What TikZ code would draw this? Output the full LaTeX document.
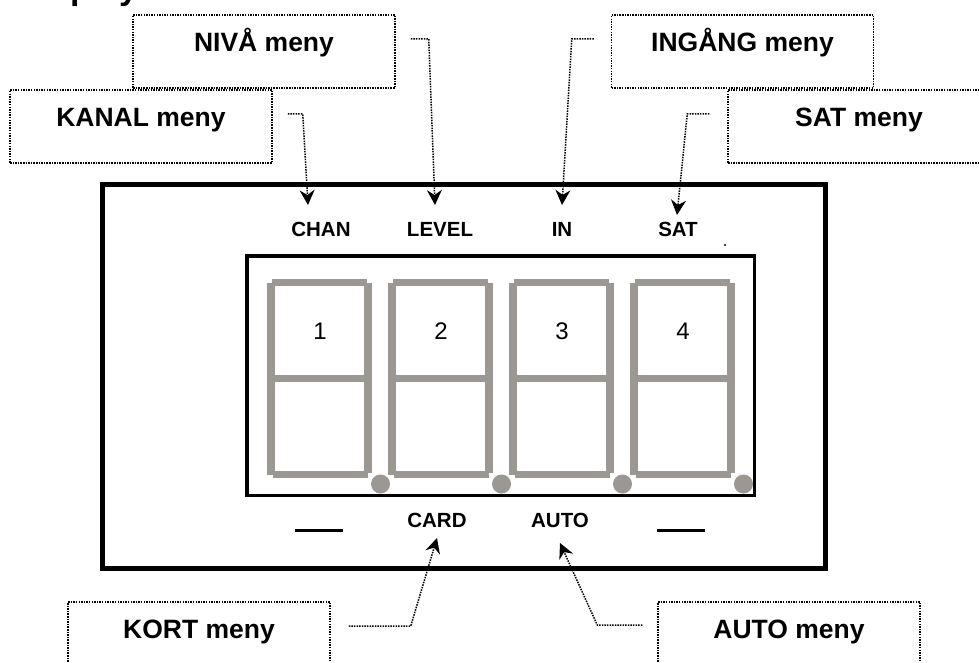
\documentclass[tikz,border=0pt]{standalone}
\usepackage{fontspec}
\setmainfont{Liberation Sans}
\usetikzlibrary{arrows.meta,calc}
\definecolor{seggray}{RGB}{155,151,147}
\begin{document}
\begin{tikzpicture}[x=1pt,y=-1pt,
  callout/.style={draw, line width=1.5pt, dash pattern=on 1.5pt off 1.1pt,
    minimum width=262pt, minimum height=73pt, inner sep=0pt,
    text height=20pt, text depth=20pt,
    font=\bfseries\fontsize{26.5}{30}\selectfont},
  lbl/.style={inner sep=0pt, anchor=base, font=\bfseries\fontsize{20.5}{24}\selectfont},
  numtxt/.style={inner sep=0pt, font=\fontsize{24}{28}\selectfont},
  conn/.style={line width=1.5pt, dash pattern=on 1.5pt off 1.1pt,
    -{Stealth[length=15pt,width=15pt,inset=5pt]}},
  seg/.style={fill=seggray, draw=none},
  ]
\useasboundingbox (0,0) rectangle (979,663);
% title, cut by the top edge
\begin{scope}
  \clip (0,0) rectangle (979,663);
  \node[anchor=base west, inner sep=0pt, font=\bfseries\fontsize{34}{40}\selectfont] (title) at (17,0) {Display};
\end{scope}
% panel frames
\draw[line width=5pt] (102.5,184.5) rectangle (825.5,568);
\draw[line width=3.5pt] (247,256) rectangle (754.5,495.5);
\fill (725,245) circle (1.2pt);
% seven-segment style digits
\foreach \L/\n [count=\i] in {267/1,388/2,509/3,630/4}{
  \fill[seg] (\L+5,279) rectangle (\L+100,286);
  \fill[seg] (\L,283) rectangle (\L+8,475);
  \fill[seg] (\L+97,283) rectangle (\L+105,473);
  \fill[seg] (\L+8,375) rectangle (\L+97,382);
  \fill[seg] (\L+6,471) rectangle (\L+101,478);
  \fill[seg] (\L+113.5,484) circle (9.5pt);
  \node[numtxt] (num\i) at (\L+53,331) {\n};
}
% labels on the panel
\node[lbl] (chan)  at (321,236) {CHAN};
\node[lbl] (level) at (440,236) {LEVEL};
\node[lbl] (in)    at (562,236) {IN};
\node[lbl] (sat)   at (678,236) {SAT};
\node[lbl] (blankl) at (319,527) {\rule[-5pt]{48pt}{3pt}};
\node[lbl] (card)  at (437,527) {CARD};
\node[lbl] (auto)  at (560,527) {AUTO};
\node[lbl] (blankr) at (681,527) {\rule[-5pt]{48pt}{3pt}};
% callout boxes
\node[callout] (kanal)  at (141,126.5) {KANAL meny};
\node[callout] (niva)   at (264,51.5)  {NIVÅ meny};
\node[callout] (ingang) at (742.5,51.5) {INGÅNG meny};
\node[callout] (satm)   at (859,126.5) {SAT meny};
\node[callout] (kort)   at (199,638.5) {KORT meny};
\node[callout] (autom)  at (789,638.5) {AUTO meny};
% connectors
\draw[conn] ($(kanal.east)+(15,-12.5)$) -- ++(15,0) -- ($(chan.base)+(-13,-31)$);
\draw[conn] ($(niva.east)+(15,-12.5)$) -- ++(18,0) -- ($(level.base)+(-5,-31)$);
\draw[conn] ($(ingang.west)+(-17,-12.5)$) -- ++(-22,0) -- ($(in.base)+(0,-31)$);
\draw[conn] ($(satm.west)+(-18,-12.5)$) -- ++(-22,0) -- ($(sat.base)+(-1,-21)$);
\draw[conn] ($(kort.east)+(18,-12.5)$) -- ++(62,0) -- ($(card.base)+(0,11)$);
\draw[conn] ($(autom.west)+(-15,-13.5)$) -- ++(-45,0) -- ($(auto.base)+(0,16)$);
\end{tikzpicture}
\end{document}
